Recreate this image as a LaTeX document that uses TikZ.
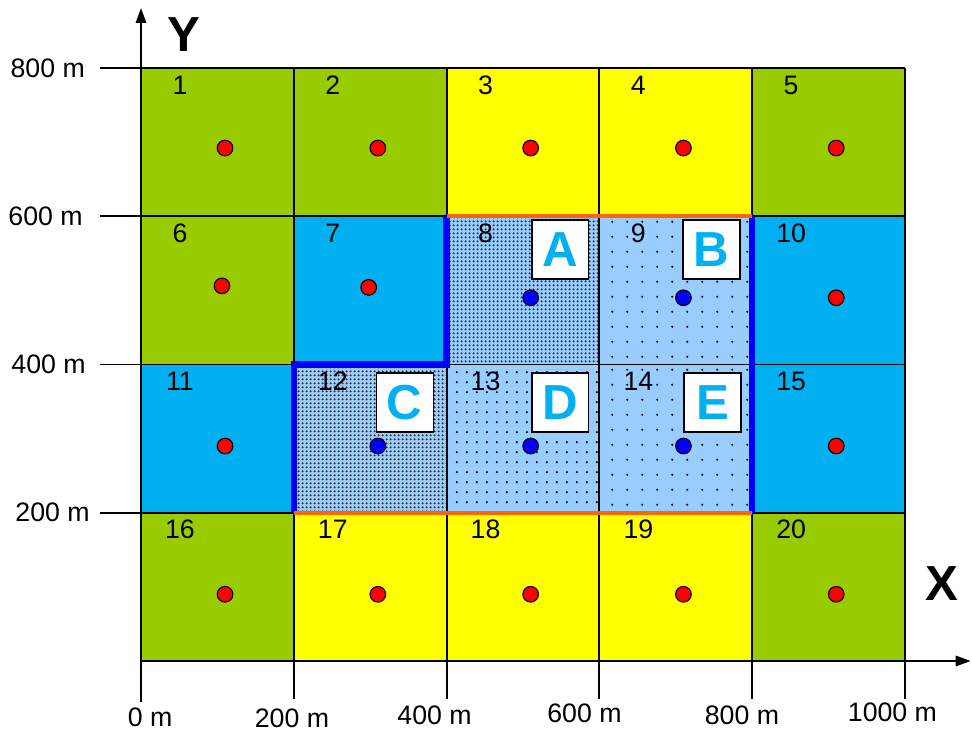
\documentclass[tikz,border=0pt]{standalone}
\usepackage{fontspec}
\setmainfont{Liberation Sans}
\usepackage{xcolor}
\usetikzlibrary{arrows.meta, patterns}

\definecolor{cgreen}{HTML}{99CC00}
\definecolor{cyellow}{HTML}{FFFF00}
\definecolor{ccyan}{HTML}{00B0F0}
\definecolor{clight}{HTML}{99CCFF}
\definecolor{corange}{HTML}{FF6600}
\definecolor{cblue}{HTML}{0000FF}
\definecolor{cred}{HTML}{FF0000}

% dotted fills of the cells A-E
\pgfdeclarepatternformonly{densedots}{\pgfpointorigin}{\pgfpoint{2.9pt}{2.9pt}}{\pgfpoint{2.9pt}{2.9pt}}%
  {\pgfpathcircle{\pgfpoint{1.45pt}{1.45pt}}{0.95pt}\pgfusepath{fill}}
\pgfdeclarepatternformonly{middots}{\pgfpointorigin}{\pgfpoint{7pt}{7pt}}{\pgfpoint{7pt}{7pt}}%
  {\pgfpathcircle{\pgfpoint{3.5pt}{3.5pt}}{0.8pt}\pgfusepath{fill}}
\pgfdeclarepatternformonly{sparsedots}{\pgfpointorigin}{\pgfpoint{10.5pt}{10.5pt}}{\pgfpoint{10.5pt}{10.5pt}}%
  {\pgfpathcircle{\pgfpoint{5.25pt}{5.25pt}}{0.8pt}\pgfusepath{fill}}

\begin{document}
\begin{tikzpicture}[x=3.82cm, y=3.70625cm,
    cell/.style={line width=1.4pt},
    grn/.style={fill=cgreen},
    yel/.style={fill=cyellow},
    cyn/.style={fill=ccyan},
    densepat/.style={fill=clight, postaction={pattern=densedots, pattern color=black!80}},
    midpat/.style={fill=clight, postaction={pattern=middots}},
    sparsepat/.style={fill=clight, postaction={pattern=sparsedots}},
    num/.style={font=\fontsize{19}{19}\selectfont, inner sep=0pt},
    well/.style={circle, draw=black, line width=0.8pt, minimum size=0.39cm, inner sep=0pt},
    letter/.style={draw=black, line width=0.8pt, fill=white, minimum width=1.425cm,
                   minimum height=1.475cm, inner sep=0pt, text=ccyan,
                   font=\fontsize{35}{35}\selectfont\bfseries},
    axlbl/.style={font=\fontsize{19}{19}\selectfont, inner sep=0pt},
    axisline/.style={line width=1.4pt, -{Triangle[length=0.375cm, width=0.26cm]}},
    axname/.style={font=\fontsize{35}{35}\selectfont\bfseries, inner sep=0pt}
]
\useasboundingbox (-0.9228,-0.4857) rectangle (5.4385,4.4587);

% cells, numbers and wells
\foreach \n/\s/\dx/\dy/\dc in {1/grn/.55/.46/cred, 2/grn/.55/.46/cred, 3/yel/.55/.46/cred,
    4/yel/.55/.46/cred, 5/grn/.55/.46/cred, 6/grn/.53/.53/cred, 7/cyn/.49/.52/cred,
    8/densepat/.55/.45/cblue, 9/sparsepat/.55/.45/cblue, 10/cyn/.55/.45/cred,
    11/cyn/.55/.45/cred, 12/densepat/.55/.45/cblue, 13/midpat/.55/.45/cblue,
    14/sparsepat/.55/.45/cblue, 15/cyn/.55/.45/cred, 16/grn/.55/.45/cred,
    17/yel/.55/.45/cred, 18/yel/.55/.45/cred, 19/yel/.55/.45/cred, 20/grn/.55/.45/cred}{
  \pgfmathtruncatemacro{\c}{mod(\n-1,5)}
  \pgfmathtruncatemacro{\r}{3-int((\n-1)/5)}
  \fill[\s] (\c,\r) rectangle ++(1,1);
  \node[num] (n\n) at (\c+0.255,\r+0.885) {\n};
  \node[well, fill=\dc] (w\n) at (\c+\dx,\r+\dy) {};
}
\foreach \x in {0,...,5} \draw[cell] (\x,0) -- (\x,4);
\foreach \y in {0,...,4} \draw[cell] (0,\y) -- (5,\y);

% borders of the zone
\draw[line width=4.5pt, cblue] (2,3) -- (2,2) -- (1,2) -- (1,1);
\draw[line width=4.5pt, cblue] (4,3) -- (4,1);
\draw[line width=3pt, corange] (2,3) -- (4,3);
\draw[line width=3pt, corange] (1,1) -- (4,1);

\node[letter] (A) at (2.745,2.776) {A};
\node[letter] (B) at (3.734,2.776) {B};
\node[letter] (C) at (1.725,1.744) {C};
\node[letter] (D) at (2.745,1.744) {D};
\node[letter] (E) at (3.740,1.744) {E};

% axes
\coordinate (O) at (0,0);
\coordinate (ytip) at (0,4.4047);
\coordinate (xtip) at (5.43,0);
\draw[axisline] (0,-0.2766) -- (ytip);
\draw[axisline] (O) -- (xtip);
\foreach \y in {1,...,4} \draw[cell] (-0.268,\y) -- (0,\y);
\foreach \x in {1,...,5} \draw[cell] (\x,0) -- (\x,-0.255);

\node[axlbl, anchor=east] (y800) at (-0.366,4) {800 m};
\node[axlbl, anchor=east] (y600) at (-0.380,3) {600 m};
\node[axlbl, anchor=east] (y400) at (-0.360,2) {400 m};
\node[axlbl, anchor=east] (y200) at (-0.334,1) {200 m};

\node[axlbl] (x0)    at (0.059,-0.382) {0 m};
\node[axlbl] (x200)  at (0.988,-0.384) {200 m};
\node[axlbl] (x400)  at (1.921,-0.364) {400 m};
\node[axlbl] (x600)  at (2.902,-0.351) {600 m};
\node[axlbl] (x800)  at (3.933,-0.364) {800 m};
\node[axlbl] (x1000) at (4.918,-0.344) {1000 m};

\node[axname] (ylab) at (0.281,4.223) {Y};
\node[axname] (xlab) at (5.242,0.519) {X};
\end{tikzpicture}
\end{document}
